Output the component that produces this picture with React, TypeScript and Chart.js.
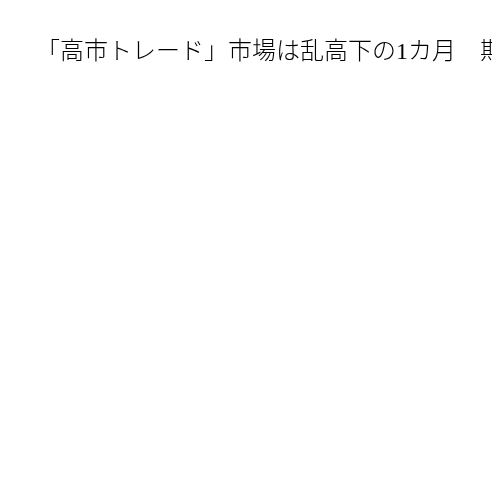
import React, { useEffect, useRef } from "react";
import { Chart, registerables } from "chart.js";

Chart.register(...registerables);

const titleText = "「高市トレード」市場は乱高下の1カ月　期待と警戒が交錯";
const categories: string[] = [];
const seriesValues: number[] = [];

export default function App() {
  const ref = useRef<HTMLCanvasElement | null>(null);
  useEffect(() => {
    if (!ref.current) return;
    const chart = new Chart(ref.current, {
      type: "line",
      data: {
        labels: categories,
        datasets: [{ label: "", data: seriesValues }],
      },
      options: {
        animation: false,
        responsive: true,
        maintainAspectRatio: false,
        layout: { padding: { top: 20, left: 28 } },
        scales: { x: { display: false }, y: { display: false } },
        plugins: {
          legend: { display: false },
          tooltip: { enabled: false },
          title: {
            display: true,
            text: titleText,
            align: "start",
            color: "#000",
            font: { family: "'Liberation Serif', 'Noto Sans CJK JP'", size: 24, weight: "300" },
          },
        },
      },
    });
    return () => chart.destroy();
  }, []);
  return (
    <div style={{ width: 492, height: 484, overflow: "hidden" }}>
      <div style={{ width: 900, height: 484, position: "relative" }}>
        <canvas ref={ref} />
      </div>
    </div>
  );
}
